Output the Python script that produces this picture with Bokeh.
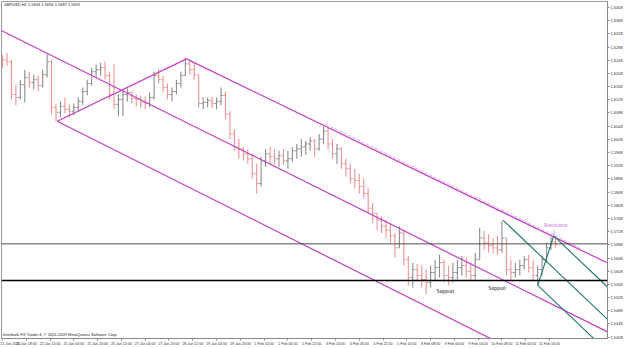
from bokeh.plotting import figure
from bokeh.models import ColumnDataSource, FixedTicker, Range1d, Label, Span, PrintfTickFormatter
from bokeh.embed import file_html
from bokeh.resources import INLINE

chart_title = "GBPUSD,H1  1.5694 1.5694 1.5687 1.5691"
copyright_text = "Interbank FX Trader 4, \u00a9 2001-2009 MetaQuotes Software Corp."

# ---- price bars (each bar = 3 hourly bars) ----
hours_per_bar = 3
first_open = 1.6255
highs = [1.6264, 1.6270, 1.6249, 1.6174, 1.6189, 1.6219, 1.6213, 1.6204, 1.6201, 1.6219,
         1.6267, 1.6249, 1.6114, 1.6123, 1.6135, 1.6114, 1.6117, 1.6135, 1.6165, 1.6189,
         1.6225, 1.6234, 1.6240, 1.6243, 1.6213, 1.6237, 1.6144, 1.6159, 1.6162, 1.6153,
         1.6144, 1.6141, 1.6138, 1.6150, 1.6213, 1.6222, 1.6201, 1.6177, 1.6165, 1.6189,
         1.6213, 1.6255, 1.6249, 1.6240, 1.6204, 1.6135, 1.6135, 1.6138, 1.6135, 1.6165,
         1.6153, 1.6093, 1.6039, 1.6009, 1.5985, 1.5979, 1.5964, 1.5934, 1.5955, 1.5979,
         1.5985, 1.5979, 1.5973, 1.5979, 1.5973, 1.5985, 1.5994, 1.6009, 1.6003, 1.6015,
         1.6009, 1.6024, 1.6048, 1.6045, 1.6009, 1.5994, 1.5985, 1.5949, 1.5934, 1.5919,
         1.5904, 1.5889, 1.5859, 1.5814, 1.5784, 1.5775, 1.5763, 1.5754, 1.5724, 1.5745,
         1.5733, 1.5655, 1.5634, 1.5631, 1.5625, 1.5613, 1.5625, 1.5643, 1.5658, 1.5643,
         1.5625, 1.5634, 1.5643, 1.5655, 1.5649, 1.5634, 1.5664, 1.5739, 1.5730, 1.5721,
         1.5709, 1.5715, 1.5760, 1.5709, 1.5643, 1.5634, 1.5643, 1.5655, 1.5658, 1.5643,
         1.5625, 1.5655, 1.5694, 1.5712, 1.5709]
lows = [1.6225, 1.6231, 1.6129, 1.6111, 1.6129, 1.6120, 1.6165, 1.6159, 1.6153, 1.6165,
        1.6195, 1.6084, 1.6063, 1.6075, 1.6087, 1.6075, 1.6081, 1.6093, 1.6111, 1.6141,
        1.6171, 1.6195, 1.6201, 1.6189, 1.6129, 1.6099, 1.6078, 1.6078, 1.6123, 1.6117,
        1.6108, 1.6102, 1.6099, 1.6105, 1.6129, 1.6177, 1.6150, 1.6129, 1.6123, 1.6144,
        1.6165, 1.6201, 1.6204, 1.6189, 1.6105, 1.6099, 1.6105, 1.6102, 1.6099, 1.6111,
        1.6069, 1.6009, 1.5973, 1.5949, 1.5943, 1.5934, 1.5889, 1.5844, 1.5865, 1.5925,
        1.5934, 1.5931, 1.5925, 1.5931, 1.5919, 1.5940, 1.5949, 1.5955, 1.5961, 1.5973,
        1.5955, 1.5973, 1.5994, 1.5979, 1.5949, 1.5934, 1.5919, 1.5895, 1.5874, 1.5859,
        1.5844, 1.5829, 1.5784, 1.5754, 1.5733, 1.5724, 1.5709, 1.5694, 1.5649, 1.5679,
        1.5625, 1.5565, 1.5559, 1.5577, 1.5559, 1.5538, 1.5559, 1.5577, 1.5589, 1.5574,
        1.5565, 1.5574, 1.5583, 1.5595, 1.5589, 1.5580, 1.5583, 1.5643, 1.5673, 1.5664,
        1.5661, 1.5658, 1.5664, 1.5595, 1.5580, 1.5589, 1.5595, 1.5613, 1.5604, 1.5580,
        1.5565, 1.5595, 1.5634, 1.5673, 1.5679]
closes = [1.6249, 1.6243, 1.6144, 1.6135, 1.6174, 1.6195, 1.6180, 1.6189, 1.6171, 1.6204,
          1.6243, 1.6105, 1.6090, 1.6108, 1.6099, 1.6093, 1.6105, 1.6123, 1.6153, 1.6177,
          1.6213, 1.6219, 1.6225, 1.6201, 1.6144, 1.6114, 1.6129, 1.6144, 1.6150, 1.6132,
          1.6129, 1.6120, 1.6117, 1.6135, 1.6201, 1.6189, 1.6165, 1.6144, 1.6153, 1.6177,
          1.6201, 1.6237, 1.6219, 1.6204, 1.6117, 1.6120, 1.6126, 1.6117, 1.6123, 1.6141,
          1.6084, 1.6024, 1.5985, 1.5979, 1.5964, 1.5949, 1.5904, 1.5874, 1.5943, 1.5964,
          1.5955, 1.5949, 1.5958, 1.5943, 1.5949, 1.5973, 1.5979, 1.5985, 1.5994, 1.6003,
          1.5979, 1.6009, 1.6033, 1.5994, 1.5964, 1.5979, 1.5934, 1.5919, 1.5889, 1.5883,
          1.5865, 1.5844, 1.5799, 1.5784, 1.5763, 1.5745, 1.5733, 1.5715, 1.5679, 1.5724,
          1.5643, 1.5589, 1.5613, 1.5595, 1.5583, 1.5574, 1.5604, 1.5619, 1.5634, 1.5595,
          1.5589, 1.5604, 1.5619, 1.5625, 1.5607, 1.5595, 1.5643, 1.5709, 1.5694, 1.5685,
          1.5679, 1.5673, 1.5709, 1.5613, 1.5604, 1.5613, 1.5625, 1.5643, 1.5619, 1.5595,
          1.5613, 1.5643, 1.5679, 1.5697, 1.5691]

# ---- axes ----
time_tick_step = 16  # hours between time labels
time_tick_labels = ["21 Jan 2010", "21 Jan 18:00", "22 Jan 10:00", "25 Jan 04:00", "25 Jan 20:00",
                    "26 Jan 12:00", "27 Jan 04:00", "27 Jan 20:00", "28 Jan 12:00", "29 Jan 04:00",
                    "29 Jan 20:00", "1 Feb 14:00", "2 Feb 06:00", "2 Feb 22:00", "3 Feb 14:00",
                    "4 Feb 06:00", "4 Feb 22:00", "5 Feb 14:00", "8 Feb 08:00", "9 Feb 00:00",
                    "9 Feb 16:00", "10 Feb 08:00", "11 Feb 00:00", "11 Feb 16:00"]
price_tick_values = [1.6408, 1.6368, 1.6328, 1.6288, 1.6248, 1.6208, 1.6168, 1.6128, 1.6088,
                     1.6048, 1.6008, 1.5968, 1.5928, 1.5888, 1.5848, 1.5808, 1.5768, 1.5728,
                     1.5688, 1.5648, 1.5608, 1.5568, 1.5528, 1.5488, 1.5448, 1.5408]

bid_price = 1.5691
support_price = 1.5580

# ---- drawn objects: (hour, price) anchor pairs ----
channel_upper = [(-1.34, 1.6339), (407.0, 1.5424)]
channel_lower = [(36.8, 1.6063), (407.0, 1.5226)]
rising_line = [(36.8, 1.6063), (123.8, 1.6252)]
upper_line = [(123.8, 1.6252), (407.0, 1.5633)]
dashed_line = [(217.5, 1.6054), (388.2, 1.5679)]
fork_a = (336.7, 1.5763)
fork_b = (360.1, 1.5565)
fork_c = (370.8, 1.5715)

support_points = [(297.9, 1.5547), (332.7, 1.5556)]
resistance_point = (372.2, 1.5748)

X0, X1 = -0.67, 407.0
Y0, Y1 = 1.5404, 1.6426

p = figure(width=625, height=348, output_backend="svg", toolbar_location=None,
           x_range=Range1d(X0, X1), y_range=Range1d(Y0, Y1), y_axis_location="right",
           min_border_left=1, min_border_top=1, min_border_right=14, min_border_bottom=8)
p.background_fill_color = "white"
p.border_fill_color = "white"
p.outline_line_color = "#9a9a9a"
p.grid.visible = False

# bars
n = len(closes)
t = [i * hours_per_bar for i in range(n)]
opens = [first_open] + closes[:-1]
cols = ["#8c8c8c" if c >= o else "#ef9494" for o, c in zip(opens, closes)]
src = ColumnDataSource(dict(t=t, tl=[v - 1.3 for v in t], tr=[v + 1.3 for v in t],
                            o=opens, h=highs, l=lows, c=closes, col=cols))
p.segment(x0="t", y0="l", x1="t", y1="h", line_color="col", line_width=1.1, source=src)
p.segment(x0="tl", y0="o", x1="t", y1="o", line_color="col", line_width=1, source=src)
p.segment(x0="t", y0="c", x1="tr", y1="c", line_color="col", line_width=1, source=src)

# horizontal lines
p.add_layout(Span(location=bid_price, dimension="width", line_color="#3c3c3c", line_width=0.9))
p.add_layout(Span(location=support_price, dimension="width", line_color="#000000", line_width=1.6))

mag = "#c83cc8"
for seg in (channel_upper, channel_lower, rising_line, upper_line):
    p.line([seg[0][0], seg[1][0]], [seg[0][1], seg[1][1]], line_color=mag, line_width=1.2)
p.line([dashed_line[0][0], dashed_line[1][0]], [dashed_line[0][1], dashed_line[1][1]],
       line_color="#e4a6ea", line_width=1, line_dash="3 2")

# Andrews pitchfork
teal = "#23766f"
mid = ((fork_b[0] + fork_c[0]) / 2, (fork_b[1] + fork_c[1]) / 2)
slope = (mid[1] - fork_a[1]) / (mid[0] - fork_a[0])
for pt in (fork_a, fork_b, fork_c):
    p.line([pt[0], X1], [pt[1], pt[1] + slope * (X1 - pt[0])], line_color=teal, line_width=1.1)
p.line([fork_b[0], fork_c[0]], [fork_b[1], fork_c[1]], line_color=teal, line_width=1.1)

# texts
for (sx, sy) in support_points:
    p.add_layout(Label(x=sx, y=sy, text="Support", text_font="Liberation Serif",
                       text_font_size="5.5px", text_color="#111111",
                       text_align="center", text_baseline="middle"))
p.add_layout(Label(x=resistance_point[0], y=resistance_point[1], text="Resistance",
                   text_font="Liberation Serif", text_font_size="5.5px", text_color="#d070d8",
                   text_align="center", text_baseline="middle"))
p.add_layout(Label(x=resistance_point[0] - 1.2, y=resistance_point[1] - 0.0023, text="\u21e9",
                   text_font="DejaVu Sans", text_font_size="6px", text_color="#d070d8",
                   text_align="center", text_baseline="middle"))
p.add_layout(Label(x=X0 + 1.5, y=Y1 - 0.0003, text=chart_title, text_font="Liberation Sans",
                   text_font_size="4px", text_color="#222222", text_baseline="top"))
p.add_layout(Label(x=X0 + 0.8, y=Y0 + 0.0005, text=copyright_text, text_font="Liberation Sans",
                   text_font_size="4px", text_color="#222222", text_baseline="bottom"))

# price boxes on the axis
for val in (bid_price, support_price):
    p.add_layout(Label(x=X1 + 1.2, y=val, text="%.4f" % val, text_font="Liberation Sans",
                       text_font_size="4px", text_color="white", background_fill_color="black",
                       text_align="left", text_baseline="middle"))

# axes
yax = p.yaxis[0]
yax.ticker = FixedTicker(ticks=price_tick_values)
yax.formatter = PrintfTickFormatter(format="%.4f")
xax = p.xaxis[0]
xax.ticker = FixedTicker(ticks=[i * time_tick_step for i in range(len(time_tick_labels))])
xax.major_label_overrides = {i * time_tick_step: s for i, s in enumerate(time_tick_labels)}
xax.major_label_text_align = "left"
for ax in (xax, yax):
    ax.axis_line_color = "#8a8a8a"
    ax.major_tick_line_color = "#8a8a8a"
    ax.major_tick_out = 2
    ax.major_tick_in = 0
    ax.minor_tick_out = 0
    ax.minor_tick_in = 0
    ax.major_label_standoff = 1
    ax.major_label_text_font = "Liberation Sans"
    ax.major_label_text_color = "#333333"
yax.major_label_text_font_size = "4px"
xax.major_label_text_font_size = "3.6px"

open("out.html", "w").write(file_html(p, INLINE))
